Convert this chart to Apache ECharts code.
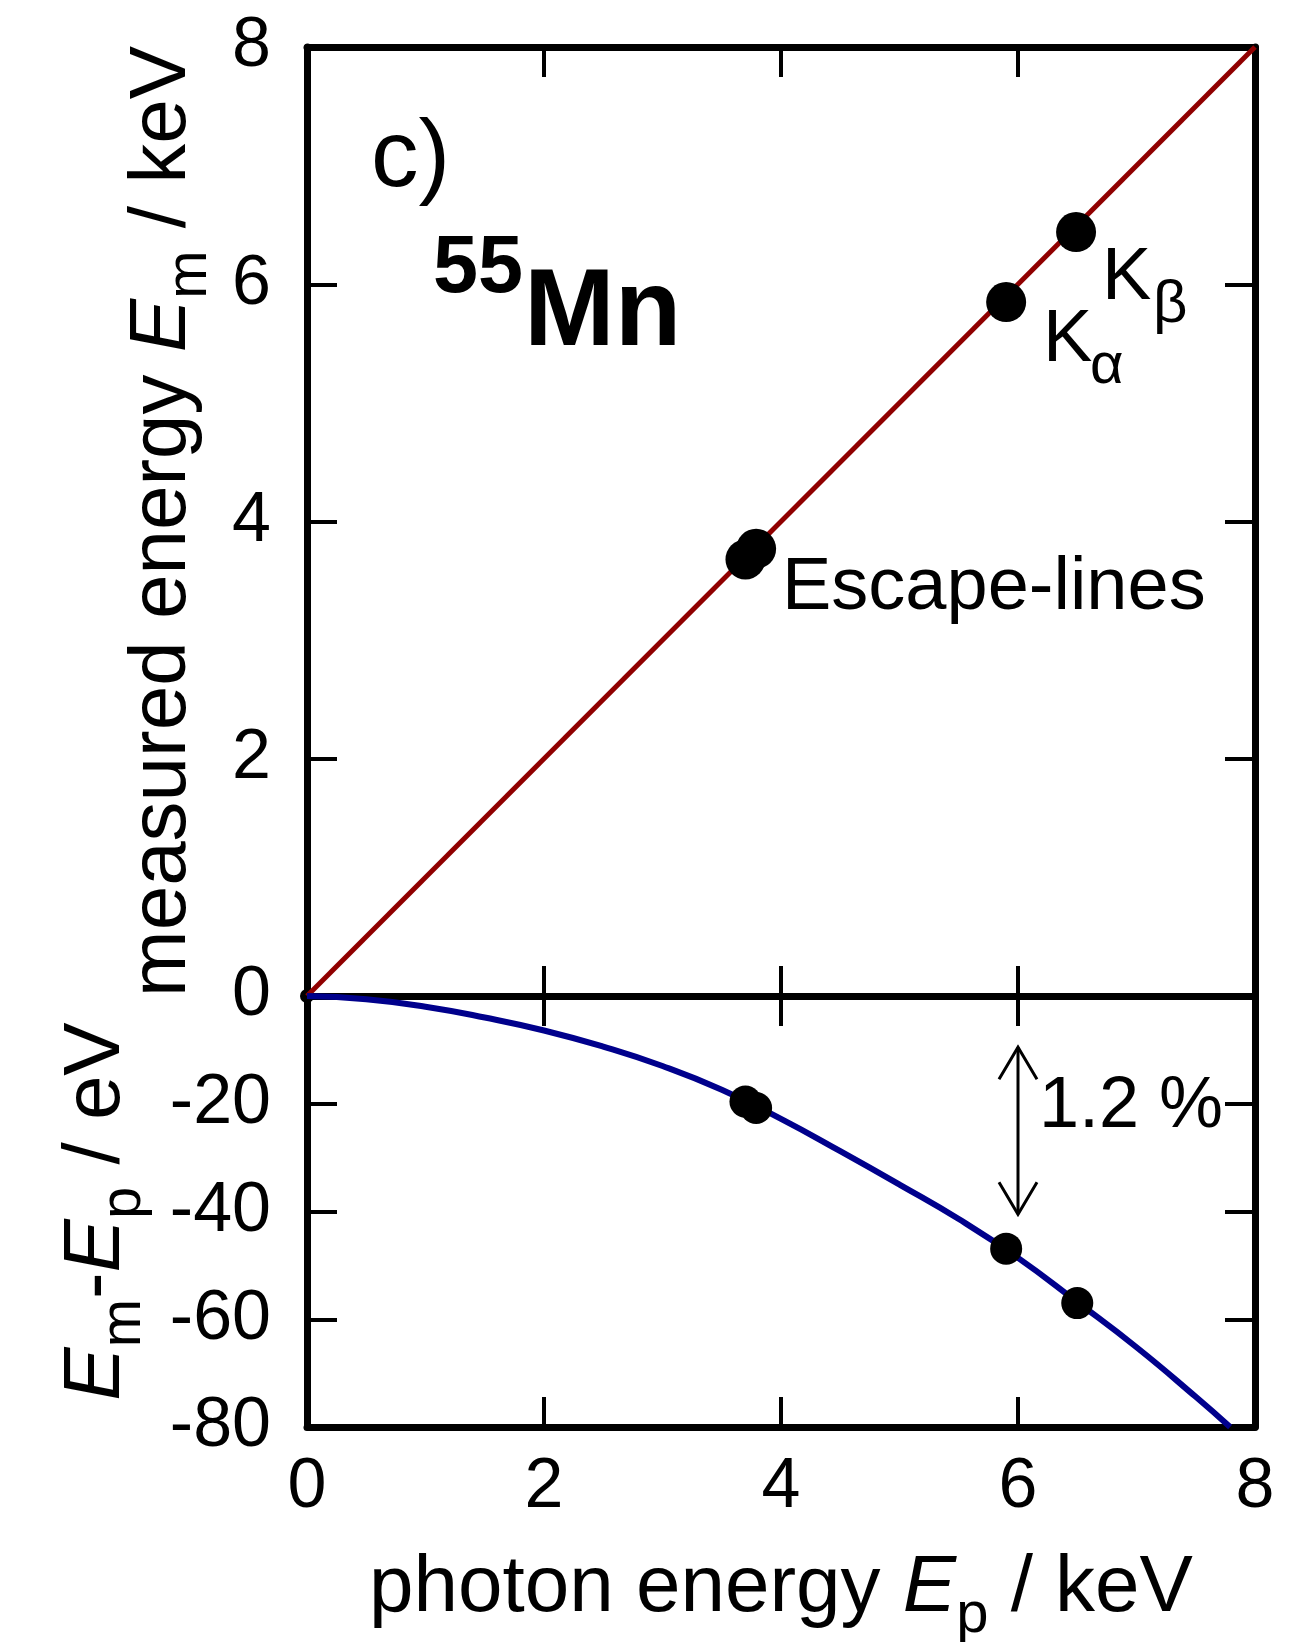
<!DOCTYPE html>
<html>
<head>
<meta charset="utf-8">
<script src="https://cdn.jsdelivr.net/npm/echarts@6/dist/echarts.min.js"></script>
<style>
html, body { margin: 0; padding: 0; background: #fff; }
#main { width: 1292px; height: 1642px; }
</style>
</head>
<body>
<div id="main"></div>
<script>
// axis ranges / ticks
var xTicks = [0, 2, 4, 6, 8];
var topYTicks = [0, 2, 4, 6, 8];
var botYTicks = [-80, -60, -40, -20, 0];

// upper panel: measured vs photon energy (keV)
var fitLine = [[0, 0], [8, 8]];
var topPoints = [[3.70, 3.68], [3.79, 3.77], [5.90, 5.85], [6.49, 6.44]];

// lower panel: residual Em-Ep (eV), curve
var residX = [0, 0.5, 1.0, 1.5, 2.0, 2.5, 3.0, 3.5, 4.0, 4.5, 5.0, 5.5, 6.0, 6.5, 7.0, 7.5, 7.79];
var residY = [0, -0.6, -2.0, -4.0, -6.4, -9.4, -13.0, -17.4, -22.8, -28.8, -35.0, -41.4, -48.6, -56.8, -65.2, -74.4, -80];
var botPoints = [[3.70, -19.6], [3.79, -20.8], [5.90, -46.9], [6.50, -57.0]];
var originPoint = [[0, 0]];

// 1.2 % double arrow (data coords)
var arrowX = 6;
var arrowFrom = -9.5;
var arrowTo = -40.5;

var FONT = 'Liberation Sans, Arial, sans-serif';

var nameRich = {
    n: { fontFamily: FONT, fontSize: 80, lineHeight: 80, color: '#000' },
    i: { fontFamily: FONT, fontSize: 80, lineHeight: 80, color: '#000', fontStyle: 'italic' },
    s: { fontFamily: FONT, fontSize: 58, lineHeight: 40, color: '#000', verticalAlign: 'top', padding: [38, 0, 0, 0] }
};

function axis(grid, pos, ticks, showLabel) {
    return {
        type: 'value',
        gridIndex: grid,
        position: pos,
        min: ticks[0],
        max: ticks[ticks.length - 1],
        interval: ticks[1] - ticks[0],
        axisLine: { show: true, onZero: false, lineStyle: { color: '#000', width: 7 } },
        axisTick: { show: true, inside: true, length: 30, lineStyle: { color: '#000', width: 4 } },
        axisLabel: { show: showLabel, color: '#000', fontFamily: FONT, fontSize: 70, margin: 26 },
        splitLine: { show: false }
    };
}

var xBot = axis(1, 'bottom', xTicks, true);
xBot.name = '{n|photon energy }{i|E}{s|p}{n| / keV}';
xBot.nameLocation = 'middle';
xBot.nameGap = 122;
xBot.nameTextStyle = { fontFamily: FONT, fontSize: 80, rich: nameRich };

var yTop = axis(0, 'left', topYTicks, true);
yTop.axisLabel.margin = 36;
yTop.name = '{n|measured energy }{i|E}{s|m}{n| / keV}';
yTop.nameLocation = 'middle';
yTop.nameGap = 104;
yTop.nameTextStyle = { fontFamily: FONT, fontSize: 80, rich: nameRich };

var yBot = axis(1, 'left', botYTicks, true);
yBot.axisLabel.margin = 36;
yBot.axisLabel.formatter = function (v) { return v === 0 ? '' : String(v); };
yBot.name = '{i|E}{s|m}{n|-}{i|E}{s|p}{n| / eV}';
yBot.nameLocation = 'middle';
yBot.nameGap = 170;
yBot.nameTextStyle = { fontFamily: FONT, fontSize: 80, rich: nameRich };

var chart = echarts.init(document.getElementById('main'));

var option = {
    backgroundColor: '#fff',
    animation: false,
    grid: [
        { left: 307, top: 47, width: 948, height: 949, outerBoundsMode: 'none', containLabel: false },
        { left: 307, top: 996, width: 948, height: 431, outerBoundsMode: 'none', containLabel: false }
    ],
    xAxis: [
        axis(0, 'bottom', xTicks, false),
        axis(0, 'top', xTicks, false),
        xBot,
        axis(1, 'top', xTicks, false)
    ],
    yAxis: [
        yTop,
        axis(0, 'right', topYTicks, false),
        yBot,
        axis(1, 'right', botYTicks, false)
    ],
    series: [
        {
            type: 'line', xAxisIndex: 0, yAxisIndex: 0,
            data: fitLine, showSymbol: false, silent: true,
            lineStyle: { color: '#900000', width: 5 }, z: 2
        },
        {
            type: 'scatter', xAxisIndex: 0, yAxisIndex: 0,
            data: topPoints, symbolSize: 40,
            itemStyle: { color: '#000', opacity: 1 }, z: 3
        },
        {
            type: 'line', xAxisIndex: 2, yAxisIndex: 2,
            data: residX.map(function (x, i) { return [x, residY[i]]; }),
            showSymbol: false, smooth: true, silent: true,
            lineStyle: { color: '#00008c', width: 6 }, z: 2
        },
        {
            type: 'scatter', xAxisIndex: 2, yAxisIndex: 2,
            data: botPoints, symbolSize: 32,
            itemStyle: { color: '#000', opacity: 1 }, z: 3
        },
        {
            type: 'scatter', xAxisIndex: 2, yAxisIndex: 2,
            data: originPoint, symbolSize: 14,
            itemStyle: { color: '#000', opacity: 1 }, z: 1
        }
    ]
};

chart.setOption(option);

var p1 = chart.convertToPixel({ xAxisIndex: 2, yAxisIndex: 2 }, [arrowX, arrowFrom]);
var p2 = chart.convertToPixel({ xAxisIndex: 2, yAxisIndex: 2 }, [arrowX, arrowTo]);
var arrowStyle = { stroke: '#000', lineWidth: 3, fill: null };

function txt(s, x, y, size, weight) {
    return {
        type: 'text', z: 10,
        style: {
            text: s, x: x, y: y, fill: '#000',
            font: (weight || 'normal') + ' ' + size + 'px ' + FONT,
            textAlign: 'left', textVerticalAlign: 'middle'
        }
    };
}

chart.setOption({
    graphic: [
        txt('c)', 371, 160, 95),
        txt('55', 433, 270, 81, 'bold'),
        txt('Mn', 524, 315, 109, 'bold'),
        txt('K', 1043, 341, 74),
        txt('\u03b1', 1090, 367, 58),
        txt('K', 1102, 279, 74),
        txt('\u03b2', 1153, 305, 60),
        txt('Escape-lines', 782, 589, 74),
        txt('1.2 %', 1039, 1107, 72),
        { type: 'line', z: 10, shape: { x1: p1[0], y1: p1[1], x2: p2[0], y2: p2[1] }, style: arrowStyle },
        { type: 'polyline', z: 10, shape: { points: [[p1[0] - 19, p1[1] + 32], [p1[0], p1[1]], [p1[0] + 19, p1[1] + 32]] }, style: arrowStyle },
        { type: 'polyline', z: 10, shape: { points: [[p2[0] - 19, p2[1] - 32], [p2[0], p2[1]], [p2[0] + 19, p2[1] - 32]] }, style: arrowStyle }
    ]
});
</script>
</body>
</html>
